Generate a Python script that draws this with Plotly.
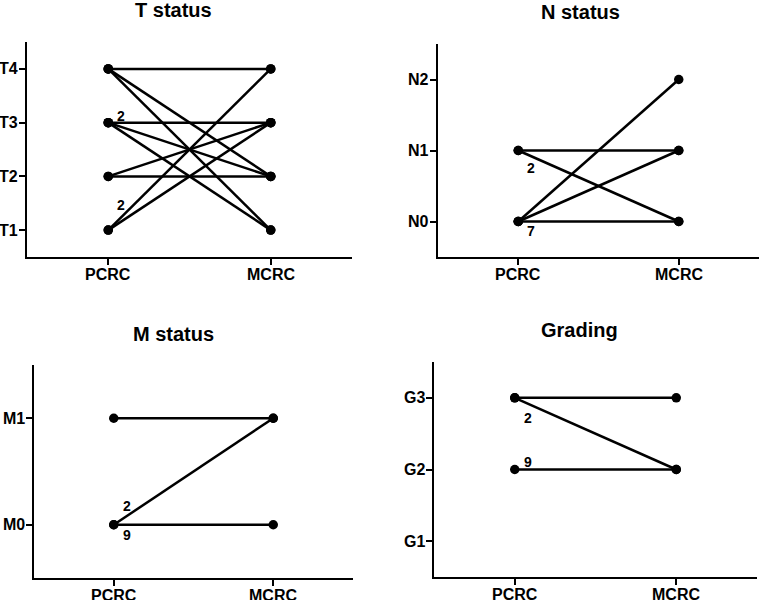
import plotly.graph_objects as go

# ---- data ----
groups = ["PCRC", "MCRC"]

t_levels = ["T1", "T2", "T3", "T4"]
t_from = [4, 4, 4, 3, 3, 3, 2, 2, 1, 1]
t_to = [4, 2, 1, 3, 2, 1, 3, 2, 4, 3]
t_counts = ["2", "2"]
t_count_x = [1.08, 1.08]
t_count_y = [3.13, 1.46]

n_levels = ["N0", "N1", "N2"]
n_from = [1, 1, 0, 0, 0]
n_to = [1, 0, 2, 1, 0]
n_counts = ["2", "7"]
n_count_x = [1.08, 1.08]
n_count_y = [0.75, -0.13]

m_levels = ["M0", "M1"]
m_from = [1, 0, 0]
m_to = [1, 1, 0]
m_counts = ["2", "9"]
m_count_x = [1.08, 1.08]
m_count_y = [0.18, -0.10]

g_levels = ["G1", "G2", "G3"]
g_from = [3, 3, 2]
g_to = [3, 2, 2]
g_counts = ["2", "9"]
g_count_x = [1.08, 1.08]
g_count_y = [2.72, 2.10]

titles = ["T status", "N status", "M status", "Grading"]

W, H = 759, 600
FONT = "Arial, Liberation Sans, sans-serif"

panels = [
    # levels, level values, from, to, counts, cx, cy, xdom px, ydom px, yrange, title pos px
    (t_levels, [1, 2, 3, 4], t_from, t_to, t_counts, t_count_x, t_count_y,
     (27, 352), (42, 257), [0.5, 4.5], (173, 10)),
    (n_levels, [0, 1, 2], n_from, n_to, n_counts, n_count_x, n_count_y,
     (438, 759), (44, 257), [-0.5, 2.5], (580, 12)),
    (m_levels, [0, 1], m_from, m_to, m_counts, m_count_x, m_count_y,
     (34, 353), (365, 578), [-0.5, 1.5], (173, 334)),
    (g_levels, [1, 2, 3], g_from, g_to, g_counts, g_count_x, g_count_y,
     (434, 757), (362, 577), [0.5, 3.5], (579, 330)),
]

fig = go.Figure()
layout = dict(
    width=W, height=H,
    margin=dict(l=0, r=0, t=0, b=0, autoexpand=False),
    paper_bgcolor="white", plot_bgcolor="white",
    showlegend=False,
    font=dict(family=FONT, color="black"),
)
annotations = []
BOLD16 = dict(family=FONT, size=16, weight="bold", color="black")

for i, (levels, lvals, src, dst, counts, cx, cy, xd, yd, yr, tpos) in enumerate(panels):
    k = "" if i == 0 else str(i + 1)
    xa, ya = "x" + k, "y" + k
    for a, b in zip(src, dst):
        fig.add_trace(go.Scatter(
            x=[1, 2], y=[a, b], mode="lines+markers",
            line=dict(color="black", width=2.5),
            marker=dict(color="black", size=9.5),
            xaxis=xa, yaxis=ya, cliponaxis=False, hoverinfo="skip",
        ))
    layout["xaxis" + k] = dict(
        domain=[xd[0] / W, xd[1] / W], anchor=ya, range=[0.5, 2.5],
        tickvals=[1, 2], ticktext=["", ""], showline=True, linecolor="black",
        linewidth=2, ticks="outside", ticklen=6, tickwidth=2, tickcolor="black",
        showgrid=False, zeroline=False, automargin=False, fixedrange=True,
    )
    layout["yaxis" + k] = dict(
        domain=[1 - yd[1] / H, 1 - yd[0] / H], anchor=xa, range=yr,
        tickvals=lvals, ticktext=["" for _ in levels], showline=True,
        linecolor="black", linewidth=2, ticks="outside", ticklen=6,
        tickwidth=2, tickcolor="black",
        showgrid=False, zeroline=False, automargin=False, fixedrange=True,
    )
    # level labels left of the y axis
    for lv, lname in zip(lvals, levels):
        annotations.append(dict(
            x=(xd[0] - 7) / W, y=lv, xref="paper", yref=ya, text=lname,
            showarrow=False, xanchor="right", yanchor="middle", font=BOLD16,
        ))
    # category labels under the x axis
    for gx, gname in zip([1, 2], groups):
        annotations.append(dict(
            x=gx, y=1 - (yd[1] + 7) / H, xref=xa, yref="paper", text=gname,
            showarrow=False, xanchor="center", yanchor="top", font=BOLD16,
        ))
    for t, x, y in zip(counts, cx, cy):
        annotations.append(dict(
            x=x, y=y, xref=xa, yref=ya, text=t, showarrow=False,
            font=dict(family=FONT, size=14, weight="bold", color="black"),
        ))
    annotations.append(dict(
        x=tpos[0] / W, y=1 - tpos[1] / H, xref="paper", yref="paper",
        text=titles[i], showarrow=False, xanchor="center", yanchor="middle",
        font=dict(family=FONT, size=20, weight="bold", color="black"),
    ))

layout["annotations"] = annotations
fig.update_layout(**layout)
fig.write_html(
    "out.html",
    config={"displayModeBar": False, "staticPlot": True},
    post_script="document.body.style.margin='0';document.body.style.padding='0';",
)
